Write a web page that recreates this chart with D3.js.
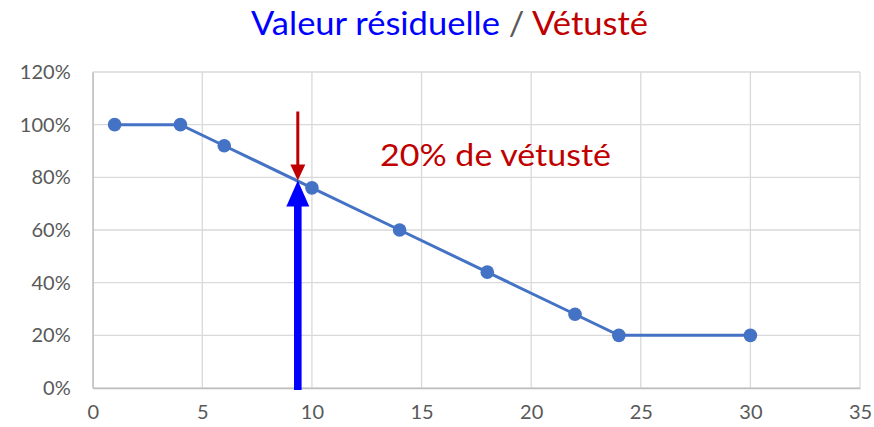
<!DOCTYPE html>
<html><head><meta charset="utf-8">
<script src="https://cdn.jsdelivr.net/npm/d3@7"></script>
<style>body{margin:0;background:#fff}svg{display:block}</style>
</head><body>
<svg id="c" width="874" height="427"></svg>
<script>
const xValues = [1, 4, 6, 10, 14, 18, 22, 24, 30];
const yValues = [1.00, 1.00, 0.92, 0.76, 0.60, 0.44, 0.28, 0.20, 0.20];
const xTicks = [0, 5, 10, 15, 20, 25, 30, 35];
const yTicks = [0, 0.2, 0.4, 0.6, 0.8, 1.0, 1.2];
const markX = 9.31;          // arrow position (years)
const annotation = "20% de vétusté";
const titleParts = [["Valeur résiduelle", "#0000FF"], [" / ", "#595959"], ["Vétusté", "#C00000"]];

const svg = d3.select("#c");
const font = "Lato, 'Open Sans', sans-serif";
const x = d3.scaleLinear().domain([0, 35]).range([92.7, 860]);
const y = d3.scaleLinear().domain([0, 1.2]).range([388, 72]);

// gridlines
svg.append("g").selectAll("line").data(yTicks).join("line")
  .attr("x1", x(0)).attr("x2", x(35)).attr("y1", d => y(d)).attr("y2", d => y(d))
  .attr("stroke", "#d9d9d9").attr("stroke-width", 1.3);
svg.append("g").selectAll("line").data(xTicks).join("line")
  .attr("y1", y(0)).attr("y2", y(1.2)).attr("x1", d => x(d)).attr("x2", d => x(d))
  .attr("stroke", "#d9d9d9").attr("stroke-width", 1.3);

// axes
const xAxis = svg.append("g").attr("transform", `translate(0,${y(0)})`)
  .call(d3.axisBottom(x).tickValues(xTicks).tickSize(0).tickPadding(20).tickFormat(d3.format("d")));
const yAxis = svg.append("g").attr("transform", `translate(${x(0)},0)`)
  .call(d3.axisLeft(y).tickValues(yTicks).tickSize(0).tickPadding(22).tickFormat(d3.format(".0%")));
[xAxis, yAxis].forEach(a => {
  a.select(".domain").attr("stroke", "#bfbfbf").attr("stroke-width", 1.3);
  a.selectAll("text").attr("fill", "#595959").style("font-family", font).style("font-size", "20px");
});
xAxis.selectAll("text").attr("dy", "0.71em").attr("y", 17);

// line
const pts = xValues.map((v, i) => [v, yValues[i]]);
svg.append("path").datum(pts)
  .attr("d", d3.line().x(d => x(d[0])).y(d => y(d[1])))
  .attr("fill", "none").attr("stroke", "#4472C4").attr("stroke-width", 3);
svg.append("g").selectAll("circle").data(pts).join("circle")
  .attr("cx", d => x(d[0])).attr("cy", d => y(d[1])).attr("r", 6.8).attr("fill", "#4472C4");

// arrow intersection value
const interp = d3.scaleLinear().domain(xValues.slice(2, 4)).range(yValues.slice(2, 4));
const tipY = y(interp(markX));
const ax = x(markX) + 1;

// blue arrow (up)
svg.append("rect").attr("x", ax - 3.8).attr("y", tipY + 20).attr("width", 7.6).attr("height", y(0) + 2 - (tipY + 20)).attr("fill", "#0000FF");
svg.append("path").attr("d", `M${ax},${tipY} L${ax - 11.5},${tipY + 26} L${ax + 11.5},${tipY + 26} Z`).attr("fill", "#0000FF");

// red arrow (down)
svg.append("rect").attr("x", ax - 1.5).attr("y", 111.5).attr("width", 3).attr("height", tipY - 14 - 111.5).attr("fill", "#C00000");
svg.append("path").attr("d", `M${ax},${tipY} L${ax - 7.5},${tipY - 16} L${ax + 7.5},${tipY - 16} Z`).attr("fill", "#C00000");

// annotation
svg.append("text").attr("x", 380).attr("y", 166).text(annotation)
  .attr("fill", "#C00000").style("font-family", font).style("font-size", "30px")
  .attr("textLength", 231).attr("lengthAdjust", "spacingAndGlyphs");

// title
const t = svg.append("text").attr("x", 251).attr("y", 35).style("font-family", font).style("font-size", "32px")
  .attr("textLength", 397).attr("lengthAdjust", "spacingAndGlyphs");
titleParts.forEach(([s, c]) => t.append("tspan").text(s).attr("fill", c).style("white-space", "pre"));
</script>
</body></html>
